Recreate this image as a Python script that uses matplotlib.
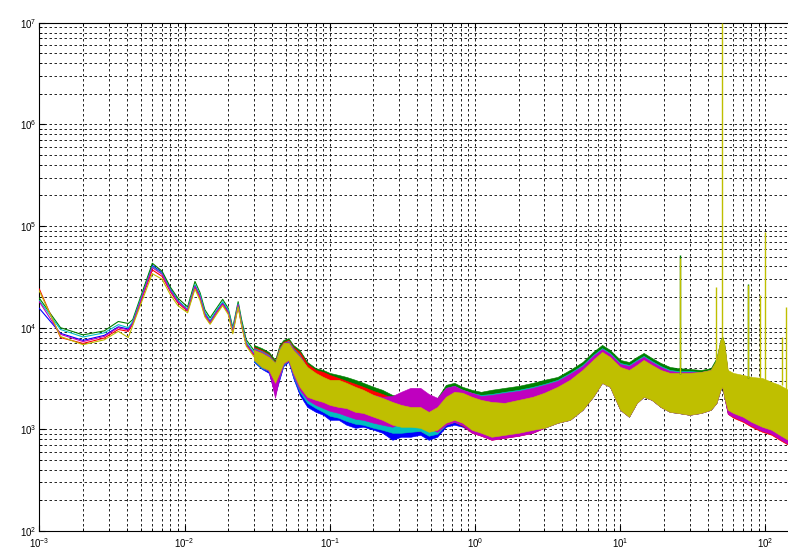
"""
Spectra of six channels on log-log axes (MATLAB style grid).
"""

import numpy as np
import matplotlib
matplotlib.use("Agg")
import matplotlib.pyplot as plt

# --- Low-frequency part (smooth lines), Hz ---
f_low = [0.001, 0.0014, 0.002, 0.0028, 0.0035, 0.0041, 0.0044, 0.006, 0.007, 0.008,
         0.009, 0.0105, 0.0118, 0.0128, 0.0138, 0.015, 0.0166, 0.0183, 0.02, 0.0215,
         0.0234, 0.0247, 0.0266, 0.03]

blue_low = [1.55e4, 8.8e3, 7.5e3, 8.4e3, 1.02e4, 9.7e3, 1.12e4, 4.1e4, 3.5e4, 2.4e4,
            1.85e4, 1.5e4, 2.6e4, 2.05e4, 1.38e4, 1.15e4, 1.45e4, 1.75e4, 1.45e4, 9.4e3,
            1.7e4, 1.1e4, 7.0e3, 5.5e3]
green_low = [1.95e4, 1.0e4, 8.5e3, 9.3e3, 1.15e4, 1.1e4, 1.2e4, 4.3e4, 3.6e4, 2.5e4,
             1.95e4, 1.6e4, 2.85e4, 2.2e4, 1.5e4, 1.25e4, 1.55e4, 1.9e4, 1.55e4, 1.0e4,
             1.8e4, 1.2e4, 7.6e3, 6.0e3]
red_low = [2.4e4, 8.0e3, 7.0e3, 7.9e3, 9.6e3, 9.2e3, 1.08e4, 3.7e4, 3.2e4, 2.25e4,
           1.75e4, 1.45e4, 2.5e4, 1.95e4, 1.32e4, 1.1e4, 1.4e4, 1.7e4, 1.4e4, 9.0e3,
           1.65e4, 1.07e4, 6.8e3, 5.4e3]
cyan_low = [1.85e4, 9.6e3, 8.1e3, 8.9e3, 1.07e4, 1.0e4, 1.15e4, 4.0e4, 3.4e4, 2.35e4,
            1.85e4, 1.52e4, 2.65e4, 2.1e4, 1.42e4, 1.18e4, 1.48e4, 1.8e4, 1.5e4, 9.7e3,
            1.72e4, 1.13e4, 7.2e3, 5.7e3]
magenta_low = [1.8e4, 8.6e3, 7.3e3, 8.2e3, 1.0e4, 9.5e3, 1.1e4, 3.9e4, 3.35e4, 2.3e4,
               1.8e4, 1.48e4, 2.55e4, 2.0e4, 1.35e4, 1.12e4, 1.42e4, 1.72e4, 1.42e4, 9.2e3,
               1.68e4, 1.08e4, 6.9e3, 5.5e3]
yellow_low = [2.3e4, 8.2e3, 6.8e3, 7.6e3, 9.2e3, 8.0e3, 1.05e4, 3.4e4, 3.0e4, 2.1e4,
              1.65e4, 1.4e4, 2.4e4, 1.85e4, 1.28e4, 1.08e4, 1.35e4, 1.65e4, 1.35e4, 8.7e3,
              1.6e4, 1.05e4, 6.6e3, 5.2e3]

# --- Noisy part: upper / lower envelope of each channel, Hz ---
f_band = [0.03, 0.034, 0.038, 0.042, 0.045, 0.048, 0.052, 0.056, 0.062, 0.07,
          0.08, 0.09, 0.1, 0.115, 0.13, 0.15, 0.17, 0.2, 0.23, 0.27,
          0.31, 0.36, 0.42, 0.48, 0.55, 0.63, 0.72, 0.82, 0.95, 1.1,
          1.3, 1.6, 2.0, 2.5, 3.0, 3.7, 4.5, 5.5, 6.5, 7.5,
          8.5, 10, 11.5, 13, 14.5, 16.5, 19, 22, 25, 30,
          36, 42, 46, 49, 50.5, 52, 55, 60, 70, 80,
          95, 110, 125, 143]

blue_hi = [5780, 5280, 4820, 4000, 5400, 6470, 6470, 5160, 4110, 3070,
           2620, 2340, 2180, 2090, 1950, 1820, 1740, 1555, 1485, 1390,
           1450, 1485, 1485, 1300, 1485, 1950, 2180, 2090, 1950, 1820,
           1820, 1860, 1950, 2180, 2340, 2620, 3070, 3840, 4820, 5780,
           5280, 4110, 3840, 4400, 4820, 4400, 3840, 3590, 3510, 3510,
           3510, 3670, 4400, 6770, 7270, 6050, 3510, 3280, 3070, 2930,
           2740, 2560, 2340, 2130]
blue_lo = [4600, 3930, 3590, 2180, 3070, 4200, 4600, 3200, 2180, 1660,
           1485, 1390, 1240, 1240, 1110, 1035, 1060, 990, 925, 789,
           845, 845, 883, 789, 845, 1060, 1110, 1060, 945, 883,
           825, 845, 883, 945, 1035, 1160, 1240, 1555, 2090, 2870,
           2620, 1555, 1330, 1820, 2090, 1950, 1660, 1485, 1450, 1390,
           1450, 1555, 1820, 2450, 2620, 2090, 1450, 1330, 1240, 1110,
           990, 925, 825, 740]

green_hi = [6770, 6300, 5780, 4820, 6770, 7590, 7900, 6770, 6050, 4600,
            4000, 3840, 3590, 3430, 3280, 3070, 2870, 2620, 2450, 2180,
            2090, 2040, 2040, 1860, 2040, 2740, 2870, 2620, 2450, 2340,
            2450, 2560, 2680, 2870, 3070, 3280, 3840, 4600, 5780, 6770,
            6050, 4820, 4600, 5160, 5650, 5040, 4500, 4110, 4000, 3930,
            3840, 4000, 5040, 7590, 8130, 7100, 3670, 3430, 3200, 3070,
            2930, 2740, 2560, 2290]
green_lo = [5040, 4400, 4000, 3070, 3840, 4820, 5160, 3840, 2800, 2230,
            2040, 1950, 1860, 1780, 1740, 1590, 1555, 1420, 1330, 1185,
            1135, 1135, 1110, 1010, 1060, 1240, 1330, 1240, 1060, 990,
            905, 945, 990, 1060, 1110, 1240, 1330, 1660, 2230, 3070,
            2800, 1660, 1420, 1950, 2230, 2090, 1780, 1590, 1555, 1485,
            1555, 1660, 1950, 2620, 2800, 2230, 1450, 1330, 1210, 1085,
            965, 905, 805, 720]

red_hi = [6470, 6050, 5520, 4600, 6470, 7270, 7590, 6470, 5780, 4400,
          3840, 3670, 3430, 3200, 3000, 2800, 2620, 2390, 2230, 2040,
          1950, 1900, 1900, 1740, 1900, 2500, 2620, 2390, 2230, 2130,
          2180, 2290, 2390, 2560, 2740, 3000, 3510, 4200, 5280, 6050,
          5520, 4400, 4200, 4710, 5040, 4600, 4110, 3750, 3670, 3670,
          3670, 3840, 4710, 7270, 7770, 6620, 3590, 3350, 3130, 3000,
          2870, 2680, 2450, 2180]
red_lo = [4940, 4200, 3840, 2680, 3430, 4400, 4820, 3510, 2500, 2000,
          1820, 1740, 1620, 1555, 1485, 1390, 1360, 1240, 1160, 1035,
          990, 990, 965, 883, 925, 1110, 1185, 1085, 925, 865,
          789, 825, 865, 925, 1035, 1160, 1240, 1555, 2090, 2870,
          2620, 1555, 1330, 1820, 2090, 1950, 1660, 1485, 1450, 1390,
          1450, 1555, 1820, 2450, 2620, 2090, 1420, 1300, 1185, 1060,
          945, 883, 789, 705]

cyan_hi = [6300, 5900, 5400, 4500, 6300, 7100, 7420, 6300, 5400, 4000,
           3430, 3070, 2870, 2620, 2450, 2290, 2180, 1950, 1820, 1740,
           1820, 1950, 1950, 1740, 1950, 2560, 2680, 2450, 2290, 2180,
           2230, 2340, 2450, 2620, 2800, 3070, 3590, 4300, 5400, 6300,
           5650, 4500, 4300, 4820, 5280, 4710, 4200, 3840, 3750, 3750,
           3670, 3840, 4710, 7270, 7770, 6620, 3590, 3350, 3130, 3000,
           2870, 2680, 2450, 2180]
cyan_lo = [4710, 4000, 3750, 2560, 3280, 4300, 4710, 3350, 2340, 1820,
           1620, 1485, 1360, 1300, 1210, 1135, 1110, 1035, 990, 925,
           925, 945, 965, 865, 905, 1110, 1185, 1110, 965, 905,
           845, 865, 905, 965, 1035, 1160, 1240, 1555, 2090, 2870,
           2620, 1555, 1330, 1820, 2090, 1950, 1660, 1485, 1450, 1390,
           1450, 1555, 1820, 2450, 2620, 2090, 1485, 1390, 1270, 1135,
           1010, 945, 845, 755]

magenta_hi = [6170, 5780, 5280, 4400, 6050, 7100, 7270, 6170, 5280, 4000,
              3280, 3000, 2740, 2620, 2500, 2390, 2340, 2180, 2090, 2130,
              2340, 2560, 2560, 2230, 2040, 2560, 2680, 2450, 2290, 2130,
              2180, 2290, 2390, 2560, 2740, 3000, 3510, 4200, 5280, 6170,
              5520, 4400, 4200, 4710, 5160, 4600, 4110, 3750, 3670, 3670,
              3670, 3840, 4710, 7270, 7770, 6620, 3590, 3350, 3130, 3000,
              2870, 2680, 2450, 2180]
magenta_lo = [4820, 4110, 3750, 2040, 3280, 4400, 4710, 3430, 2450, 1950,
              1740, 1620, 1520, 1450, 1360, 1270, 1240, 1160, 1110, 1060,
              1160, 1330, 1300, 1035, 945, 1110, 1185, 1110, 925, 865,
              789, 825, 865, 925, 1035, 1160, 1240, 1555, 2090, 2870,
              2620, 1555, 1330, 1820, 2090, 1950, 1660, 1485, 1450, 1390,
              1450, 1555, 1820, 2450, 2620, 2090, 1420, 1330, 1210, 1085,
              965, 905, 805, 720]

yellow_hi = [6050, 5650, 5160, 4500, 6050, 7100, 7100, 6050, 5160, 4110,
             3590, 3280, 3070, 3070, 2870, 2620, 2450, 2180, 2040, 1860,
             1740, 1660, 1660, 1485, 1660, 2090, 2340, 2290, 2090, 1950,
             1860, 1820, 1950, 2090, 2290, 2620, 3070, 3840, 4820, 5780,
             5160, 4110, 3840, 4300, 4820, 4300, 3840, 3590, 3590, 3590,
             3670, 3840, 4820, 7590, 8130, 7100, 3840, 3590, 3430, 3280,
             3200, 2930, 2740, 2450]
yellow_lo = [4820, 4110, 3840, 2870, 3590, 4500, 4820, 3590, 2620, 2090,
             1950, 1860, 1740, 1660, 1620, 1485, 1450, 1330, 1240, 1110,
             1060, 1060, 1035, 945, 990, 1160, 1240, 1160, 990, 925,
             845, 883, 925, 990, 1035, 1160, 1240, 1555, 2090, 2870,
             2620, 1555, 1330, 1820, 2090, 1950, 1660, 1485, 1450, 1390,
             1450, 1555, 1820, 2450, 2620, 2090, 1555, 1450, 1330, 1185,
             1060, 990, 883, 789]

# --- Narrow line peaks (mains hum and harmonics) ---
spike_f = [25.8, 46, 50, 76, 92, 100, 130, 138]
spike_base = [3500, 3600, 8000, 3200, 3000, 2900, 2700, 2500]
spike_top = [4.85e4, 2.5e4, 1.0e7, 2.6e4, 2.1e4, 8.7e4, 8.1e3, 1.6e4]
green_spike_f = [25.8, 76]
green_spike_base = [3500, 3200]
green_spike_top = [5.2e4, 2.7e4]

# MATLAB default colour order
colors = {
    "blue": (0, 0, 1),
    "green": (0, 0.5, 0),
    "red": (1, 0, 0),
    "cyan": (0, 0.75, 0.75),
    "magenta": (0.75, 0, 0.75),
    "yellow": (0.75, 0.75, 0),
}

channels = [
    ("blue", blue_low, blue_lo, blue_hi),
    ("green", green_low, green_lo, green_hi),
    ("red", red_low, red_lo, red_hi),
    ("cyan", cyan_low, cyan_lo, cyan_hi),
    ("magenta", magenta_low, magenta_lo, magenta_hi),
    ("yellow", yellow_low, yellow_lo, yellow_hi),
]

plt.rcParams["font.family"] = ["Liberation Sans", "DejaVu Sans"]
plt.rcParams["font.size"] = 7

fig = plt.figure(figsize=(7.88, 5.49), dpi=100)
ax = fig.add_axes([39.3 / 788, 18 / 549, 748.7 / 788, 508.3 / 549])

for name, low, lo, hi in channels:
    c = colors[name]
    ax.plot(f_low, low, color=c, lw=0.8, zorder=3)
    ax.fill_between(f_band, lo, hi, color=c, lw=0.4, edgecolor=c, zorder=3)

ax.vlines(green_spike_f, green_spike_base, green_spike_top,
          color=colors["green"], lw=1.0, zorder=3)
ax.vlines(spike_f, spike_base, spike_top, color=colors["yellow"], lw=1.0, zorder=4)

ax.set_xscale("log")
ax.set_yscale("log")
ax.set_xlim(1e-3, 143)
ax.set_ylim(1e2, 1e7)

ax.grid(True, which="both", color="black", linestyle=(0, (3, 3)), lw=0.6)
ax.tick_params(which="both", direction="in", top=True, right=False, colors="black")
ax.tick_params(which="major", length=4)
ax.tick_params(which="minor", length=2)
ax.tick_params(axis="x", pad=4)
ax.tick_params(axis="y", pad=2)
ax.spines["right"].set_visible(False)
for s in ["left", "bottom", "top"]:
    ax.spines[s].set_linewidth(0.8)

fig.savefig("out.png", dpi=100)
